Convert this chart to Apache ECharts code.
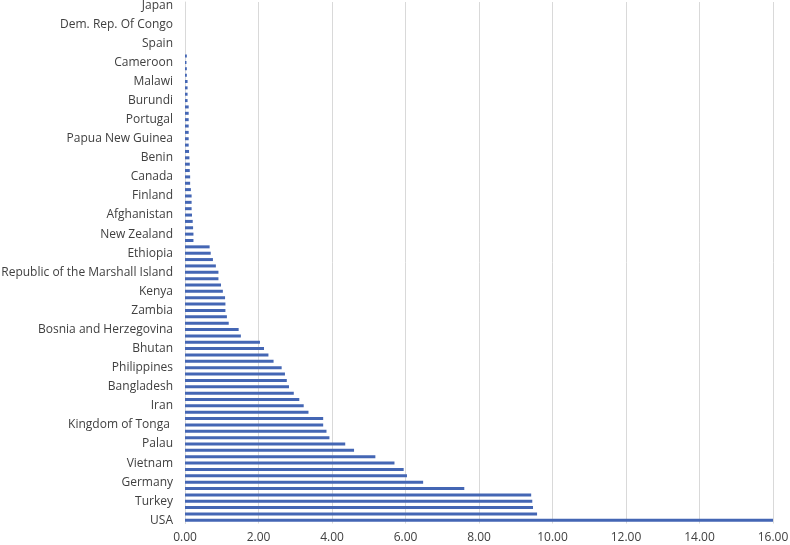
<!DOCTYPE html>
<html lang="en">
<head>
<meta charset="UTF-8">
<title>Bar chart</title>
<script src="https://cdn.jsdelivr.net/npm/echarts@6/dist/echarts.min.js"></script>
<style>
  html, body { margin: 0; padding: 0; background: #fff; }
  #chart { width: 790px; height: 545px; }
</style>
</head>
<body>
<div id="chart"></div>
<script>
// categories from bottom (USA) to top (Japan); only every third one is labelled
var countries = [
  'USA', '', '', 'Turkey', '', '', 'Germany', '', '', 'Vietnam', '', '',
  'Palau', '', '', 'Kingdom of Tonga ', '', '', 'Iran', '', '', 'Bangladesh', '', '',
  'Philippines', '', '', 'Bhutan', '', '', 'Bosnia and Herzegovina', '', '', 'Zambia', '', '',
  'Kenya', '', '', 'Republic of the Marshall Island', '', '', 'Ethiopia', '', '',
  'New Zealand', '', '', 'Afghanistan', '', '', 'Finland', '', '', 'Canada', '', '',
  'Benin', '', '', 'Papua New Guinea', '', '', 'Portugal', '', '', 'Burundi', '', '',
  'Malawi', '', '', 'Cameroon', '', '', 'Spain', '', '', 'Dem. Rep. Of Congo', '', '', 'Japan'
];

var values = [
  16.02, 9.58, 9.47, 9.45, 9.42, 7.60, 6.48, 6.04, 5.95, 5.70,
  5.18, 4.60, 4.36, 3.93, 3.85, 3.76, 3.76, 3.36, 3.23, 3.11,
  2.96, 2.83, 2.77, 2.72, 2.63, 2.41, 2.27, 2.15, 2.04, 1.52,
  1.46, 1.19, 1.14, 1.10, 1.10, 1.09, 1.03, 0.98, 0.91, 0.91,
  0.84, 0.76, 0.70, 0.67, 0.23, 0.23, 0.22, 0.21, 0.19, 0.18,
  0.18, 0.18, 0.16, 0.14, 0.14, 0.13, 0.13, 0.12, 0.11, 0.10,
  0.10, 0.10, 0.10, 0.10, 0.10, 0.10, 0.07, 0.07, 0.07, 0.07,
  0.05, 0.05, 0.04, 0.05, 0, 0, 0, 0, 0, 0,
  0, 0
];

var chart = echarts.init(document.getElementById('chart'));
chart.setOption({
  animation: false,
  grid: { left: 185, right: 17, top: 2, bottom: 21.5, containLabel: false, outerBoundsMode: 'none' },
  xAxis: {
    type: 'value',
    min: 0,
    max: 16,
    interval: 2,
    axisLine: { show: false },
    axisTick: { show: false },
    axisLabel: {
      color: '#404040',
      fontFamily: 'Open Sans',
      fontSize: 12,
      margin: 8,
      formatter: function (v) { return v.toFixed(2); }
    },
    splitLine: { show: true, lineStyle: { color: '#d9d9d9', width: 1 } }
  },
  yAxis: {
    type: 'category',
    data: countries,
    axisLine: { show: true, lineStyle: { color: '#d9d9d9' } },
    axisTick: { show: false },
    axisLabel: {
      interval: 0,
      color: '#404040',
      fontFamily: 'Open Sans',
      fontSize: 12,
      margin: 12
    }
  },
  series: [{
    type: 'bar',
    data: values,
    barWidth: 3,
    itemStyle: { color: '#4466B4' }
  }]
});
</script>
</body>
</html>
